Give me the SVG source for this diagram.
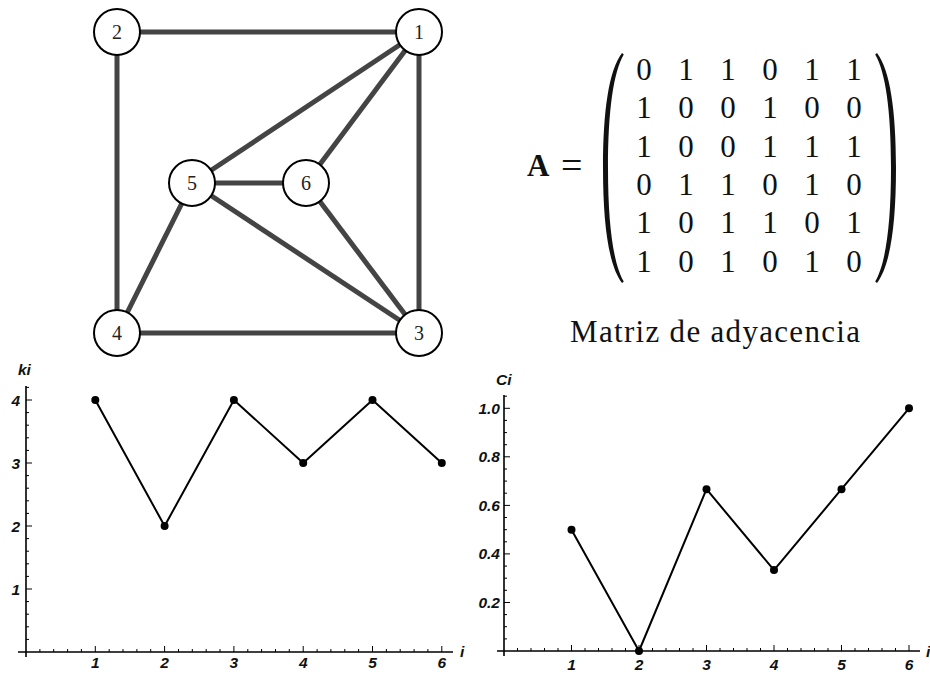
<svg xmlns="http://www.w3.org/2000/svg" width="930" height="674" viewBox="0 0 930 674">
<style>
.edge{stroke:#444;stroke-width:5;fill:none}
.node circle{fill:#fff;stroke:#000;stroke-width:2}
.node text{font-family:"Liberation Serif",serif;font-size:20px;text-anchor:middle;fill:#222}
.mx{font-family:"Liberation Serif",serif;font-size:31px;fill:#111}
.mx tspan{text-anchor:middle}
.axis{stroke:#000;stroke-width:1.6;fill:none}
.tick{stroke:#000;stroke-width:1;fill:none}
.series{stroke:#000;stroke-width:2;fill:none;stroke-linejoin:round}
.dot{fill:#000}
.lbl{font-family:"Liberation Sans",Arial,sans-serif;font-size:15.5px;font-weight:bold;font-style:italic;fill:#111}
.yl{text-anchor:end}
.xl{text-anchor:middle}
</style>
<rect width="930" height="674" fill="#fff"/>

<g id="connectors">
<line class="edge" x1="117" y1="32" x2="419" y2="32"/>
<line class="edge" x1="117" y1="32" x2="117" y2="333"/>
<line class="edge" x1="419" y1="32" x2="419" y2="333"/>
<line class="edge" x1="419" y1="32" x2="192" y2="183"/>
<line class="edge" x1="419" y1="32" x2="306" y2="183"/>
<line class="edge" x1="192" y1="183" x2="306" y2="183"/>
<line class="edge" x1="192" y1="183" x2="117" y2="333"/>
<line class="edge" x1="192" y1="183" x2="419" y2="333"/>
<line class="edge" x1="306" y1="183" x2="419" y2="333"/>
<line class="edge" x1="117" y1="333" x2="419" y2="333"/>
</g>

<g id="node1" class="node"><circle cx="419" cy="32" r="23"/><text x="419" y="39">1</text></g>
<g id="node2" class="node"><circle cx="117" cy="32" r="23"/><text x="117" y="39">2</text></g>
<g id="node3" class="node"><circle cx="419" cy="333" r="23"/><text x="419" y="340">3</text></g>
<g id="node4" class="node"><circle cx="117" cy="333" r="23"/><text x="117" y="340">4</text></g>
<g id="node5" class="node"><circle cx="192" cy="183" r="23"/><text x="192" y="190">5</text></g>
<g id="node6" class="node"><circle cx="306" cy="183" r="23"/><text x="306" y="190">6</text></g>

<g id="matrix">
<text x="527" y="176" font-family="Liberation Serif,serif" font-size="31" font-weight="bold" fill="#111">A</text>
<text x="561" y="178" font-family="Liberation Serif,serif" font-size="38" fill="#111">=</text>
<path d="M622 53 C609 70 603 110 603 168 C603 226 609 266 622 283 L623.8 281.5 C613.5 264 608 226 608 168 C608 110 613.5 72 623.8 54.5 Z" fill="#111"/>
<path d="M877 53 C890 70 896 110 896 168 C896 226 890 266 877 283 L875.2 281.5 C885.5 264 891 226 891 168 C891 110 885.5 72 875.2 54.5 Z" fill="#111"/>
<text class="mx" y="80"><tspan x="644">0</tspan><tspan x="686">1</tspan><tspan x="728">1</tspan><tspan x="770">0</tspan><tspan x="812">1</tspan><tspan x="854">1</tspan></text>
<text class="mx" y="118.3"><tspan x="644">1</tspan><tspan x="686">0</tspan><tspan x="728">0</tspan><tspan x="770">1</tspan><tspan x="812">0</tspan><tspan x="854">0</tspan></text>
<text class="mx" y="156.7"><tspan x="644">1</tspan><tspan x="686">0</tspan><tspan x="728">0</tspan><tspan x="770">1</tspan><tspan x="812">1</tspan><tspan x="854">1</tspan></text>
<text class="mx" y="195"><tspan x="644">0</tspan><tspan x="686">1</tspan><tspan x="728">1</tspan><tspan x="770">0</tspan><tspan x="812">1</tspan><tspan x="854">0</tspan></text>
<text class="mx" y="233.3"><tspan x="644">1</tspan><tspan x="686">0</tspan><tspan x="728">1</tspan><tspan x="770">1</tspan><tspan x="812">0</tspan><tspan x="854">1</tspan></text>
<text class="mx" y="271.7"><tspan x="644">1</tspan><tspan x="686">0</tspan><tspan x="728">1</tspan><tspan x="770">0</tspan><tspan x="812">1</tspan><tspan x="854">0</tspan></text>
<text x="570" y="342" font-family="Liberation Serif,serif" font-size="31" fill="#111" textLength="290">Matriz de adyacencia</text>
</g>

<g id="plot-ki">
<path class="axis" d="M18 652H453M26 386V657"/>
<path class="tick" d="M39.9 652v-3M53.7 652v-3M67.6 652v-3M81.4 652v-3M109.2 652v-3M123 652v-3M136.9 652v-3M150.7 652v-3M178.5 652v-3M192.3 652v-3M206.2 652v-3M220 652v-3M247.8 652v-3M261.6 652v-3M275.5 652v-3M289.3 652v-3M317.1 652v-3M330.9 652v-3M344.8 652v-3M358.6 652v-3M386.4 652v-3M400.2 652v-3M414.1 652v-3M427.9 652v-3"/>
<path class="tick" d="M95.3 652v-6M164.6 652v-6M233.9 652v-6M303.2 652v-6M372.5 652v-6M441.8 652v-6"/>
<path class="tick" d="M26 639.4h3M26 626.8h3M26 614.2h3M26 601.6h3M26 576.4h3M26 563.8h3M26 551.2h3M26 538.6h3M26 513.4h3M26 500.8h3M26 488.2h3M26 475.6h3M26 450.4h3M26 437.8h3M26 425.2h3M26 412.6h3M26 387.4h3"/>
<path class="tick" d="M26 589h6M26 526h6M26 463h6M26 400h6"/>
<text class="lbl yl" x="20" y="406">4</text>
<text class="lbl yl" x="20" y="469">3</text>
<text class="lbl yl" x="20" y="532">2</text>
<text class="lbl yl" x="20" y="595">1</text>
<text class="lbl xl" x="95.3" y="668">1</text>
<text class="lbl xl" x="164.6" y="668">2</text>
<text class="lbl xl" x="233.9" y="668">3</text>
<text class="lbl xl" x="303.2" y="668">4</text>
<text class="lbl xl" x="372.5" y="668">5</text>
<text class="lbl xl" x="441.8" y="668">6</text>
<text class="lbl" x="18" y="375">ki</text>
<text class="lbl" x="460" y="657">i</text>
<polyline class="series" points="95.3,400 164.6,526 233.9,400 303.2,463 372.5,400 441.8,463"/>
<g class="dot"><circle cx="95.3" cy="400" r="4"/><circle cx="164.6" cy="526" r="4"/><circle cx="233.9" cy="400" r="4"/><circle cx="303.2" cy="463" r="4"/><circle cx="372.5" cy="400" r="4"/><circle cx="441.8" cy="463" r="4"/></g>
</g>

<g id="plot-ci">
<path class="axis" d="M497 651H920M504 395V656"/>
<path class="tick" d="M517.5 651v-3M531 651v-3M544.5 651v-3M558 651v-3M585 651v-3M598.5 651v-3M612 651v-3M625.5 651v-3M652.5 651v-3M666 651v-3M679.5 651v-3M693 651v-3M720 651v-3M733.5 651v-3M747 651v-3M760.5 651v-3M787.5 651v-3M801 651v-3M814.5 651v-3M828 651v-3M855 651v-3M868.5 651v-3M882 651v-3M895.5 651v-3"/>
<path class="tick" d="M571.5 651v-6M639 651v-6M706.5 651v-6M774 651v-6M841.5 651v-6M909 651v-6"/>
<path class="tick" d="M504 638.9h3M504 626.7h3M504 614.6h3M504 590.3h3M504 578.2h3M504 566.1h3M504 541.8h3M504 529.7h3M504 517.5h3M504 493.2h3M504 481.1h3M504 469h3M504 444.7h3M504 432.6h3M504 420.4h3M504 396.2h3"/>
<path class="tick" d="M504 602.5h6M504 553.9h6M504 505.4h6M504 456.8h6M504 408.3h6"/>
<text class="lbl yl" x="500" y="413.8">1.0</text>
<text class="lbl yl" x="500" y="462.3">0.8</text>
<text class="lbl yl" x="500" y="510.9">0.6</text>
<text class="lbl yl" x="500" y="559.4">0.4</text>
<text class="lbl yl" x="500" y="608">0.2</text>
<text class="lbl xl" x="571.5" y="670">1</text>
<text class="lbl xl" x="639" y="670">2</text>
<text class="lbl xl" x="706.5" y="670">3</text>
<text class="lbl xl" x="774" y="670">4</text>
<text class="lbl xl" x="841.5" y="670">5</text>
<text class="lbl xl" x="909" y="670">6</text>
<text class="lbl" x="496" y="385">Ci</text>
<text class="lbl" x="926" y="657">i</text>
<polyline class="series" points="571.5,529.7 639,651 706.5,489.2 774,570.1 841.5,489.2 909,408.3"/>
<g class="dot"><circle cx="571.5" cy="529.7" r="4"/><circle cx="639" cy="651" r="4"/><circle cx="706.5" cy="489.2" r="4"/><circle cx="774" cy="570.1" r="4"/><circle cx="841.5" cy="489.2" r="4"/><circle cx="909" cy="408.3" r="4"/></g>
</g>
</svg>
